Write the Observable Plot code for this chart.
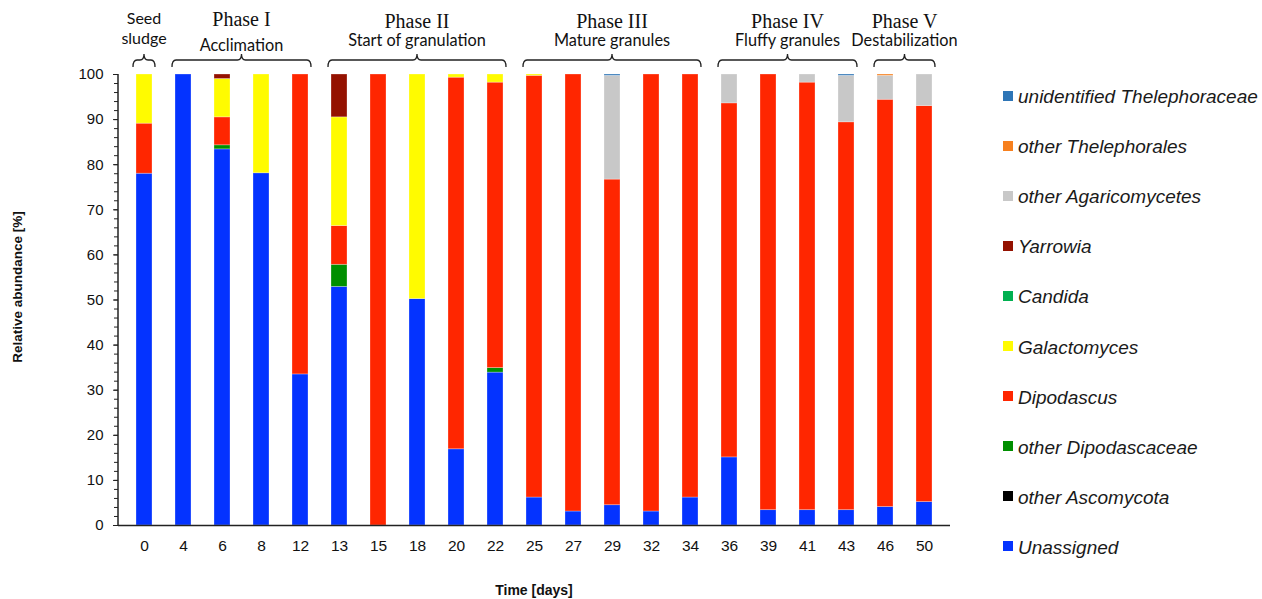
<!DOCTYPE html>
<html>
<head>
<meta charset="utf-8">
<script src="https://cdn.jsdelivr.net/npm/d3@7"></script>
<script src="https://cdn.jsdelivr.net/npm/@observablehq/plot@0.6"></script>
<style>
  html, body { margin: 0; padding: 0; background: #fff; }
  #wrap { position: relative; width: 1262px; height: 599px; }
  #legend { position: absolute; left: 1003px; top: 72px; font-family: "Liberation Sans", Arial, sans-serif; font-style: italic; font-size: 19px; color: #1a1a1a; }
  #legend .row { display: flex; align-items: center; height: 50.1px; margin: 0; }
  #legend .sw { width: 10px; height: 10px; margin-right: 5px; margin-top: -3px; }
</style>
</head>
<body>
<div id="wrap"><div id="legend"></div></div>
<script>
// ---- data ----
const days = ["0","4","6","8","12","13","15","18","20","22","25","27","29","32","34","36","39","41","43","46","50"];
const taxa = ["Unassigned","other Ascomycota","other Dipodascaceae","Dipodascus","Galactomyces","Candida","Yarrowia","other Agaricomycetes","other Thelephorales","unidentified Thelephoraceae"];
const colors = ["#0433FF","#000000","#008F00","#FF2600","#FFFB00","#00B050","#941100","#C8C8C8","#F7801E","#2E75B6"];

const unassigned          = [78.0,100,83.4,78.1,33.5,52.9,0,50.2,16.9,33.9,6.2,3.1,4.5,3.1,6.2,15.1,3.4,3.4,3.4,4.1,5.2];
const otherAscomycota     = [0,0,0,0,0,0,0,0,0,0,0,0,0,0,0,0,0,0,0,0,0];
const otherDipodascaceae  = [0,0,0.9,0,0,4.9,0,0,0,1.0,0,0,0,0,0,0,0,0,0,0,0];
const dipodascus          = [11.1,0,6.2,0,66.5,8.6,100,0,82.4,63.3,93.5,96.9,72.2,96.9,93.8,78.5,96.6,94.8,86.0,90.3,87.8];
const galactomyces        = [10.9,0,8.5,21.9,0,24.1,0,49.8,0.7,1.8,0.3,0,0,0,0,0,0,0,0,0,0];
const candida             = [0,0,0,0,0,0,0,0,0,0,0,0,0,0,0,0,0,0,0,0,0];
const yarrowia            = [0,0,1.0,0,0,9.5,0,0,0,0,0,0,0,0,0,0,0,0,0,0,0];
const otherAgaricomycetes = [0,0,0,0,0,0,0,0,0,0,0,0,23.0,0,0,6.4,0,1.8,10.3,5.3,7.0];
const otherThelephorales  = [0,0,0,0,0,0,0,0,0,0,0,0,0,0,0,0,0,0,0,0.3,0];
const unidThelephoraceae  = [0,0,0,0,0,0,0,0,0,0,0,0,0.3,0,0,0,0,0,0.3,0,0];

const seriesValues = [unassigned, otherAscomycota, otherDipodascaceae, dipodascus, galactomyces, candida, yarrowia, otherAgaricomycetes, otherThelephorales, unidThelephoraceae];

const phases = [
  {title: "Seed", sub: "sludge", from: "0", to: "0", serif: false},
  {title: "Phase I", sub: "Acclimation", from: "4", to: "12", serif: true},
  {title: "Phase II", sub: "Start of granulation", from: "13", to: "22", serif: true},
  {title: "Phase III", sub: "Mature granules", from: "25", to: "34", serif: true},
  {title: "Phase IV", sub: "Fluffy granules", from: "36", to: "43", serif: true},
  {title: "Phase V", sub: "Destabilization", from: "46", to: "50", serif: true}
];
const yTicks = [0,10,20,30,40,50,60,70,80,90,100];
const yMinor = d3.range(0, 101, 2);

// ---- table ----
const table = [];
taxa.forEach((t, i) => days.forEach((d, j) => table.push({day: d, taxon: t, value: seriesValues[i][j]})));

const W = 1262, H = 599;
const mL = 118, mR = 312, mT = 74, mB = 74;
const sans = "'Liberation Sans', Arial, sans-serif";

const plot = Plot.plot({
  width: W, height: H,
  marginLeft: mL, marginRight: mR, marginTop: mT, marginBottom: mB,
  style: {fontFamily: sans, fontSize: "15px", color: "#111", background: "transparent", overflow: "visible"},
  x: {domain: days, paddingInner: 0.6, paddingOuter: 0.3, label: null},
  y: {domain: [0, 100], label: null},
  color: {domain: taxa, range: colors},
  marks: [
    Plot.barY(table, {x: "day", y: "value", fill: "taxon", order: taxa, stroke: "#fff", strokeOpacity: 0.35, strokeWidth: 0.8}),
    Plot.axisY({ticks: yMinor, tickSize: 4, tickFormat: () => "", stroke: "#222"}),
    Plot.axisY({ticks: yTicks, tickSize: 5, tickPadding: 10, stroke: "#222", fontSize: 15, fontFamily: sans}),
    Plot.axisX({tickSize: 0, tickPadding: 14, fontSize: 15.5, fontFamily: sans}),
    Plot.ruleY([0], {stroke: "#222", strokeWidth: 1.5})
  ]
});
document.getElementById("wrap").prepend(plot);

// scales (from the plot if possible)
const xs = plot.scale("x"), ys = plot.scale("y");
const xBand = d3.scaleBand().domain(days).range([mL, W - mR]).paddingInner(0.6).paddingOuter(0.3);
const xPos = v => (xs && xs.apply) ? xs.apply(v) : xBand(v);
const bw = (xs && xs.bandwidth) ? xs.bandwidth : xBand.bandwidth();
const yPos = v => (ys && ys.apply) ? ys.apply(v) : d3.scaleLinear([0,100],[H-mB, mT])(v);

const svg = d3.select(plot);
// left axis line
svg.append("line").attr("x1", mL).attr("x2", mL).attr("y1", yPos(0)).attr("y2", yPos(100)).attr("stroke", "#222").attr("stroke-width", 1.5);

// axis titles
svg.append("text").attr("transform", `translate(22,287) rotate(-90)`)
  .attr("text-anchor", "middle").attr("font-weight", "bold").attr("font-size", 13.5).attr("fill", "#111")
  .attr("font-family", sans).text("Relative abundance [%]");
svg.append("text").attr("x", (mL + W - mR)/2).attr("y", 595)
  .attr("text-anchor", "middle").attr("font-weight", "bold").attr("font-size", 14).attr("fill", "#111")
  .attr("font-family", sans).text("Time [days]");

// phase brackets & labels
const by = 60;
phases.forEach(p => {
  const x0 = xPos(p.from) - 3, x1 = xPos(p.to) + bw + 3, m = (x0 + x1) / 2;
  const r = 4;
  const path = `M${x0},${by+7} Q${x0},${by} ${x0+r},${by} L${m-r},${by} Q${m},${by} ${m},${by-6} Q${m},${by} ${m+r},${by} L${x1-r},${by} Q${x1},${by} ${x1},${by+7}`;
  svg.append("path").attr("d", path).attr("fill", "none").attr("stroke", "#222").attr("stroke-width", 1.3);
  if (p.serif) {
    svg.append("text").attr("x", m).attr("y", p.title === "Phase I" ? 26 : 28).attr("text-anchor", "middle")
      .attr("font-family", "'Liberation Serif', 'Times New Roman', serif").attr("font-size", 20).attr("fill", "#111").text(p.title);
    svg.append("text").attr("x", m).attr("y", p.title === "Phase I" ? 51 : 46).attr("text-anchor", "middle")
      .attr("font-family", "Lato, 'Open Sans', sans-serif").attr("font-size", 16.3).attr("fill", "#111").text(p.sub);
  } else {
    svg.append("text").attr("x", m).attr("y", 24).attr("text-anchor", "middle")
      .attr("font-family", "Lato, 'Open Sans', sans-serif").attr("font-size", 16).attr("fill", "#111").text(p.title);
    svg.append("text").attr("x", m).attr("y", 44).attr("text-anchor", "middle")
      .attr("font-family", "Lato, 'Open Sans', sans-serif").attr("font-size", 16).attr("fill", "#111").text(p.sub);
  }
});

// legend (reverse order, top = last series)
const leg = d3.select("#legend");
taxa.slice().reverse().forEach(t => {
  const row = leg.append("div").attr("class", "row");
  row.append("div").attr("class", "sw").style("background", colors[taxa.indexOf(t)]);
  row.append("span").text(t);
});
</script>
</body>
</html>
